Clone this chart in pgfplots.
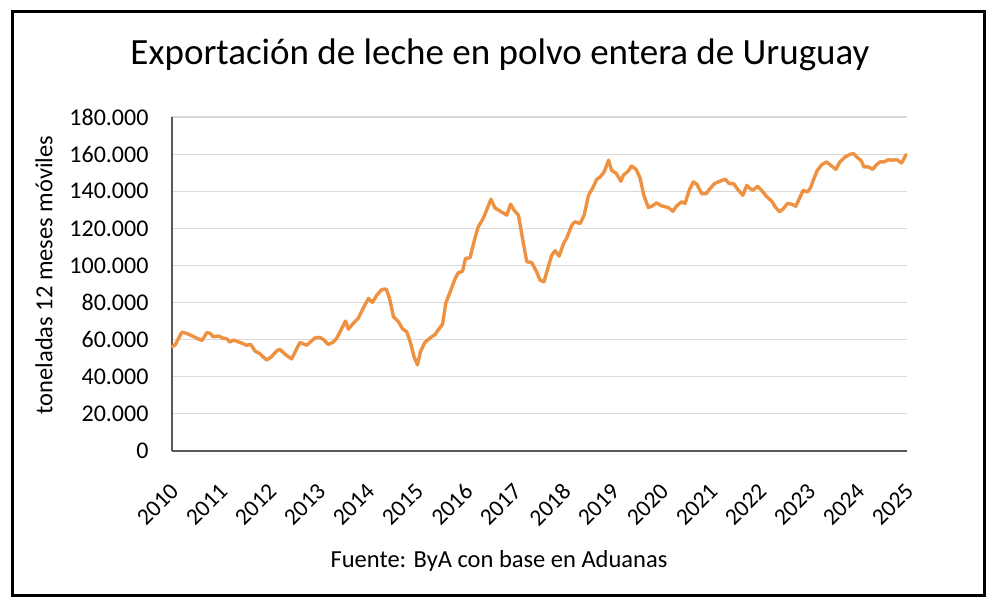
\documentclass[border=0pt]{standalone}
\usepackage{pgfplots}
\pgfplotsset{compat=1.18}
\usepackage{fontspec}
\setmainfont{Carlito}
\definecolor{lineorange}{RGB}{238,146,66}
\definecolor{gridgray}{RGB}{217,217,217}
\definecolor{axisgray}{RGB}{89,89,89}
\begin{document}
\begin{tikzpicture}[x=1pt,y=1pt]
\path[fill=white] (0,0) rectangle (1000,609);
\draw[line width=3pt] (12,13.5) rectangle (984.5,597.5);
\node[anchor=base, inner sep=0pt, font=\fontsize{37}{42}\selectfont] at (500,544) {Exportación de leche en polvo entera de Uruguay};
\node[anchor=base, inner sep=0pt, font=\fontsize{24.5}{28}\selectfont] at (499,41.3) {Fuente: ByA con base en Aduanas};
\node[rotate=90, inner sep=0pt, font=\fontsize{24.5}{28}\selectfont] at (44,334) {toneladas 12 meses móviles};
\begin{axis}[
  at={(172pt,158pt)}, anchor=south west,
  scale only axis, width=735pt, height=334pt,
  xmin=2010, xmax=2025, ymin=0, ymax=180,
  axis x line*=bottom, axis y line*=left,
  axis line style={axisgray, line width=1.2pt},
  x axis line style={-}, y axis line style={-},
  major tick length=0pt,
  xtick={2010,2011,2012,2013,2014,2015,2016,2017,2018,2019,2020,2021,2022,2023,2024,2025},
  xticklabels={2010,2011,2012,2013,2014,2015,2016,2017,2018,2019,2020,2021,2022,2023,2024,2025},
  ytick={0,20,40,60,80,100,120,140,160,180},
  yticklabels={0,20.000,40.000,60.000,80.000,100.000,120.000,140.000,160.000,180.000},
  ymajorgrids, grid style={gridgray, line width=1.2pt},
  yticklabel style={font=\fontsize{24}{24}\selectfont, anchor=east, xshift=-20pt},
  xticklabel style={font=\fontsize{23.5}{24}\selectfont, xshift=-3pt, yshift=-26pt, rotate=45, anchor=north east},
  clip=false,
]
\addplot[lineorange, line width=3.4pt, line join=round, line cap=round] coordinates {
(2010.00,56.2) (2010.06,57.0) (2010.20,64.0) (2010.30,63.4) (2010.61,59.5)
(2010.71,63.8) (2010.78,63.4) (2010.84,61.6) (2010.95,62.0) (2011.05,60.7)
(2011.12,60.5) (2011.18,58.7) (2011.25,59.8) (2011.39,58.5) (2011.52,57.0)
(2011.61,57.4) (2011.69,54.0) (2011.80,52.3) (2011.93,49.0) (2012.03,50.8)
(2012.14,54.0) (2012.20,54.8) (2012.31,52.1) (2012.44,49.6) (2012.61,58.5)
(2012.75,57.0) (2012.92,61.0) (2013.02,61.2) (2013.09,60.1) (2013.19,57.4)
(2013.29,58.7) (2013.36,60.7) (2013.50,67.9) (2013.54,70.0) (2013.60,65.6)
(2013.70,68.8) (2013.80,71.5) (2013.90,76.9) (2014.01,82.2) (2014.09,80.1)
(2014.18,84.0) (2014.28,87.0) (2014.37,87.3) (2014.44,82.2) (2014.52,72.4)
(2014.62,69.7) (2014.71,65.7) (2014.79,64.3) (2014.86,58.9) (2014.94,50.8)
(2015.01,46.4) (2015.07,53.5) (2015.16,58.5) (2015.27,61.0) (2015.37,62.8)
(2015.44,65.5) (2015.52,68.2) (2015.59,79.9) (2015.67,85.3) (2015.78,93.0)
(2015.84,96.0) (2015.93,96.9) (2015.99,103.8) (2016.08,104.1) (2016.18,114.5)
(2016.25,120.8) (2016.35,125.3) (2016.42,129.8) (2016.51,135.7) (2016.59,131.0)
(2016.69,129.4) (2016.83,127.1) (2016.91,133.0) (2016.98,129.8) (2017.07,127.1)
(2017.16,113.6) (2017.24,102.0) (2017.34,101.6) (2017.44,96.6) (2017.51,92.1)
(2017.59,91.2) (2017.68,99.3) (2017.75,105.6) (2017.82,107.9) (2017.90,105.0)
(2017.99,111.8) (2018.05,114.5) (2018.16,121.7) (2018.22,123.5) (2018.33,122.6)
(2018.41,127.1) (2018.50,137.8) (2018.59,142.0) (2018.67,146.5) (2018.74,147.7)
(2018.82,150.4) (2018.91,156.7) (2018.97,151.3) (2019.07,149.5) (2019.16,145.4)
(2019.21,148.6) (2019.31,150.8) (2019.38,153.6) (2019.47,151.8) (2019.55,147.3)
(2019.63,137.8) (2019.72,131.2) (2019.79,131.9) (2019.89,133.7) (2019.99,132.1)
(2020.13,131.2) (2020.22,129.2) (2020.30,132.1) (2020.40,134.3) (2020.47,133.4)
(2020.56,140.9) (2020.64,145.0) (2020.71,143.8) (2020.81,138.7) (2020.90,138.7)
(2020.98,141.4) (2021.07,144.1) (2021.18,145.4) (2021.29,146.5) (2021.37,144.1)
(2021.46,144.1) (2021.56,140.5) (2021.65,137.8) (2021.73,143.2) (2021.80,141.4)
(2021.86,140.5) (2021.95,142.7) (2022.03,140.5) (2022.14,137.0) (2022.24,134.6)
(2022.31,131.6) (2022.40,128.9) (2022.48,130.7) (2022.56,133.4) (2022.65,133.0)
(2022.73,131.9) (2022.82,137.0) (2022.88,140.5) (2022.97,139.6) (2023.03,141.8)
(2023.10,146.8) (2023.17,151.3) (2023.26,154.3) (2023.36,155.8) (2023.46,153.6)
(2023.55,151.8) (2023.63,155.8) (2023.74,158.5) (2023.84,159.9) (2023.91,160.3)
(2023.97,158.5) (2024.06,156.7) (2024.12,153.1) (2024.21,153.1) (2024.30,151.8)
(2024.38,154.3) (2024.45,155.8) (2024.53,155.8) (2024.62,157.0) (2024.69,156.7)
(2024.79,157.0) (2024.89,155.2) (2024.98,159.7)
};
\end{axis}
\end{tikzpicture}
\end{document}
